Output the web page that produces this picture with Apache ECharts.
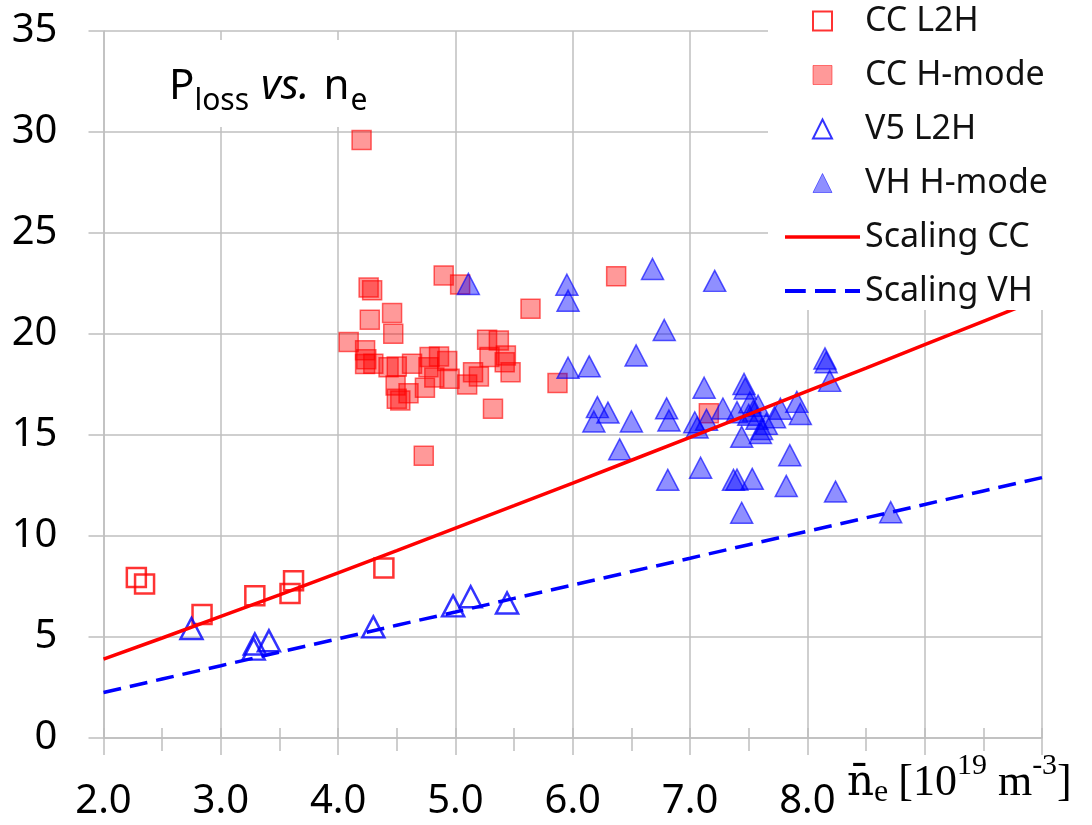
<!DOCTYPE html>
<html>
<head>
<meta charset="utf-8">
<script src="https://cdn.jsdelivr.net/npm/echarts@6/dist/echarts.min.js"></script>
<style>
html,body{margin:0;padding:0;background:#fff;}
#chart{width:1092px;height:825px;}
</style>
</head>
<body>
<div id="chart"></div>
<script>
// ---- data ----
const seriesNames = ['CC L2H', 'CC H-mode', 'V5 L2H', 'VH H-mode', 'Scaling CC', 'Scaling VH'];

const ccL2H = [[2.28,7.95],[2.35,7.62],[2.84,6.11],[3.29,7.04],[3.62,7.78],[3.59,7.15],[4.39,8.41]];

const ccHmode = [
  [4.20,29.6],[4.90,22.9],[5.04,22.45],[4.26,22.3],[4.29,22.16],[5.64,21.25],[6.37,22.86],
  [4.46,21.04],[4.27,20.71],[4.47,20.01],[4.09,19.6],[4.23,19.19],[4.24,18.75],[4.23,18.51],
  [4.30,18.53],[4.43,18.36],[4.50,18.39],[4.63,18.53],[4.78,18.86],[4.86,18.89],[4.93,18.66],
  [4.77,18.36],[4.82,17.85],[4.49,17.45],[4.60,17.07],[4.74,17.34],[4.50,16.79],[4.53,16.71],
  [4.95,17.78],[5.10,17.5],[5.15,18.11],[5.20,17.9],[5.27,19.72],[5.37,19.68],[5.29,18.86],
  [5.43,18.94],[5.42,18.6],[5.47,18.11],[5.32,16.3],[5.87,17.57],[4.73,13.97],[7.16,16.08]
];

const v5L2H = [[2.75,5.42],[3.29,4.65],[3.28,4.40],[3.41,4.81],[4.30,5.50],[4.98,6.54],[5.13,6.99],[5.44,6.68]];

const vhHmode = [
  [5.11,22.48],[5.95,22.44],[5.96,21.65],[6.68,23.22],[7.21,22.63],[6.78,20.2],[6.54,18.94],
  [5.96,18.33],[6.14,18.4],[8.15,18.79],[8.16,18.6],[8.19,17.68],[7.12,17.34],[7.46,17.53],
  [7.47,17.3],[7.51,16.62],[7.28,16.31],[7.40,16.13],[7.54,16.2],[7.04,15.63],[7.14,15.75],
  [7.06,15.37],[7.57,15.80],[7.61,15.30],[7.60,15.10],[7.44,14.91],[7.77,16.30],[7.72,15.88],
  [7.91,16.64],[7.94,16.04],[7.65,15.55],[7.50,16.0],[7.58,16.45],[6.21,16.38],[6.30,16.11],
  [6.18,15.67],[6.50,15.67],[6.80,16.32],[6.82,15.72],[6.40,14.29],[7.09,13.38],[6.81,12.78],
  [7.37,12.78],[7.40,12.79],[7.53,12.83],[7.85,14.0],[7.82,12.48],[8.24,12.2],[7.44,11.15],[8.71,11.18]
];

const scalingN  = [2.0,2.5,3.0,3.5,4.0,4.5,5.0,5.5,6.0,6.5,7.0,7.5,8.0,8.5,9.0,9.5,10.0];
const scalingCC = [3.90,4.95,6.02,7.09,8.18,9.28,10.39,11.50,12.62,13.75,14.88,16.02,17.17,18.31,19.47,20.63,21.79];
const scalingVH = [2.25,2.92,3.58,4.25,4.91,5.58,6.24,6.91,7.57,8.24,8.90,9.57,10.23,10.90,11.56,12.23,12.89];

const xTickLabels = ['2.0','3.0','4.0','5.0','6.0','7.0','8.0'];
const yTickLabels = ['0','5','10','15','20','25','30','35'];

// ---- chart ----
const chart = echarts.init(document.getElementById('chart'), null, {renderer: 'canvas'});
const GRID = '#bfbfbf';
const FONT = 'Noto Sans';
const SQUARE = 'path://M0,0 L10,0 L10,10 L0,10 Z';
const TRI = 'path://M5,0 L10,10 L0,10 Z';
const SOLID_ICON = 'path://M0,0 L75,0 L75,3.5 L0,3.5 Z';
const DASH_ICON = 'path://M0,0 L18,0 L18,3.5 L0,3.5 Z M26,0 L44,0 L44,3.5 L26,3.5 Z M52,0 L65,0 L65,3.5 L52,3.5 Z';

function pairs(xs, ys){ return xs.map((x,i)=>[x, ys[i]]); }

const option = {
  backgroundColor: '#fff',
  animation: false,
  textStyle: {fontFamily: FONT},
  title: {
    left: 157, top: 40,
    backgroundColor: '#fff',
    padding: [26, 14, 11, 12],
    text: '{P|P}{s|loss}{v|vs.}{P|n}{e|e}',
    textStyle: {
      fontWeight: 'normal',
      rich: {
        P: {fontFamily: FONT, fontSize: 42, lineHeight: 42, fontWeight: 'normal', color: '#000', verticalAlign: 'top'},
        v: {fontFamily: FONT, fontSize: 42, lineHeight: 42, fontWeight: 'normal', color: '#000', fontStyle: 'italic', verticalAlign: 'top', padding: [0,14,0,0]},
        s: {fontFamily: FONT, fontSize: 30, lineHeight: 30, fontWeight: 'normal', color: '#000', verticalAlign: 'top', padding: [20,12,0,0]},
        e: {fontFamily: FONT, fontSize: 30, lineHeight: 30, fontWeight: 'normal', color: '#000', verticalAlign: 'top', padding: [20,0,0,1]}
      }
    }
  },
  legend: {
    orient: 'vertical',
    left: 768, top: 1,
    padding: [1, 320, 0, 17],
    backgroundColor: '#fff',
    itemWidth: 75, itemHeight: 19, itemGap: 16,
    symbolKeepAspect: true,
    z: 10,
    textStyle: {fontFamily: FONT, fontSize: 34, lineHeight: 38, color: '#111'},
    data: [
      {name: seriesNames[0], icon: SQUARE, itemStyle: {color: '#fff', borderColor: '#ff0000', borderWidth: 2}},
      {name: seriesNames[1], icon: SQUARE, itemStyle: {color: 'rgba(255,0,0,0.5)', borderColor: 'rgba(255,0,0,0.6)', borderWidth: 1}},
      {name: seriesNames[2], icon: TRI, itemStyle: {color: '#fff', borderColor: '#0000ff', borderWidth: 2}},
      {name: seriesNames[3], icon: TRI, itemStyle: {color: 'rgba(0,0,255,0.55)', borderColor: 'rgba(0,0,255,0.6)', borderWidth: 1}},
      {name: seriesNames[4], icon: SOLID_ICON, itemStyle: {color: '#ff0000', borderWidth: 0}},
      {name: seriesNames[5], icon: DASH_ICON, itemStyle: {color: '#0000ff', borderWidth: 0}}
    ]
  },
  grid: {left: 103.5, right: 50, top: 31, bottom: 87},
  xAxis: [{
    type: 'value', min: 2, max: 10, interval: 1,
    axisLine: {show: true, lineStyle: {color: GRID, width: 1.5}},
    axisTick: {show: true, length: 17, lineStyle: {color: GRID, width: 1.5}},
    minorTick: {show: true, splitNumber: 2, length: 13, lineStyle: {color: GRID, width: 1.5}},
    splitLine: {show: true, lineStyle: {color: GRID, width: 1.5}},
    axisLabel: {
      margin: 44, fontFamily: FONT, fontSize: 40, color: '#000',
      formatter: function (v) { const i = Math.round(v - 2); return xTickLabels[i] !== undefined ? xTickLabels[i] : ''; }
    },
    name: '{n|n\u0304}{e|e}{t|[10}{p|19}{t| m}{p|-3}{t|]}',
    nameLocation: 'end',
    nameGap: -195,
    nameTextStyle: {
      align: 'left', verticalAlign: 'top', padding: [29, 0, 0, 0],
      rich: {
        n: {fontFamily: 'DejaVu Serif', fontSize: 42, lineHeight: 48, color: '#000', verticalAlign: 'bottom', padding: [0,0,10,0]},
        t: {fontFamily: 'Liberation Serif', fontSize: 44, lineHeight: 48, color: '#000', verticalAlign: 'bottom', padding: [0,0,10,0]},
        e: {fontFamily: 'Liberation Serif', fontSize: 32, lineHeight: 32, color: '#000', verticalAlign: 'bottom', padding: [0,10,6,0]},
        p: {fontFamily: 'Liberation Serif', fontSize: 30, lineHeight: 32, color: '#000', verticalAlign: 'bottom', padding: [0,0,34,0]}
      }
    }
  }, {
    type: 'value', min: 2, max: 10, interval: 0.5, position: 'bottom', offset: 0,
    axisLine: {show: false},
    axisTick: {show: true, inside: true, length: 10, lineStyle: {color: GRID, width: 1.5}},
    axisLabel: {show: false},
    splitLine: {show: false}
  }],
  yAxis: {
    type: 'value', min: 0, max: 35, interval: 5,
    axisLine: {show: true, lineStyle: {color: GRID, width: 1.5}},
    axisTick: {show: true, length: 15, lineStyle: {color: GRID, width: 1.5}},
    splitLine: {show: true, lineStyle: {color: GRID, width: 1.5}},
    axisLabel: {
      margin: 46, fontFamily: FONT, fontSize: 40, color: '#000',
      formatter: function (v) { const i = Math.round(v / 5); return yTickLabels[i] !== undefined ? yTickLabels[i] : ''; }
    }
  },
  series: [
    {
      name: seriesNames[1], type: 'scatter', data: ccHmode, symbol: 'rect', symbolSize: 19,
      itemStyle: {color: 'rgba(255,0,0,0.5)', borderColor: 'rgba(255,0,0,0.75)', borderWidth: 1.5}, z: 2
    },
    {
      name: seriesNames[0], type: 'scatter', data: ccL2H, symbol: 'rect', symbolSize: 19,
      itemStyle: {color: 'rgba(255,255,255,0)', borderColor: '#ff0000', borderWidth: 2.5}, z: 2
    },
    {
      name: seriesNames[3], type: 'scatter', data: vhHmode, symbol: 'triangle', symbolSize: [22, 21],
      itemStyle: {color: 'rgba(0,0,255,0.55)', borderColor: 'rgba(0,0,255,0.8)', borderWidth: 1.5}, z: 2
    },
    {
      name: seriesNames[2], type: 'scatter', data: v5L2H, symbol: 'triangle', symbolSize: [22, 21],
      itemStyle: {color: 'rgba(255,255,255,0)', borderColor: '#0000ff', borderWidth: 2.5}, z: 2
    },
    {
      name: seriesNames[4], type: 'line', data: pairs(scalingN, scalingCC), symbol: 'none', smooth: false,
      lineStyle: {color: '#ff0000', width: 3.5, type: 'solid'}, itemStyle: {color: '#ff0000'}, z: 3
    },
    {
      name: seriesNames[5], type: 'line', data: pairs(scalingN, scalingVH), symbol: 'none', smooth: false,
      lineStyle: {color: '#0000ff', width: 3.5, type: [18, 9]}, itemStyle: {color: '#0000ff'}, z: 3
    }
  ]
};
chart.setOption(option);
</script>
</body>
</html>
